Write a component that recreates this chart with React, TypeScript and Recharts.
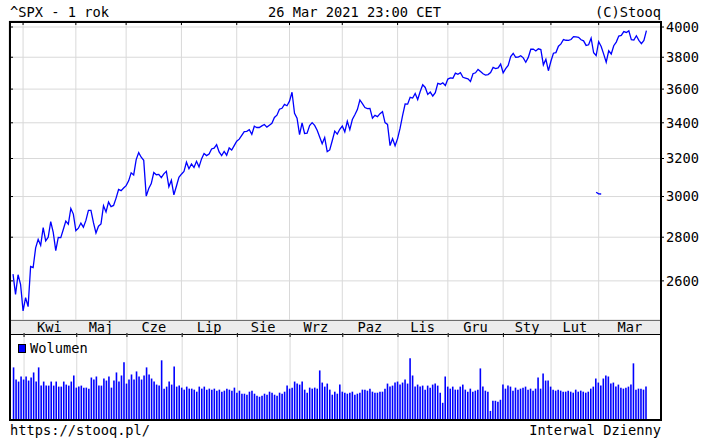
import {
  Bar,
  BarChart,
  CartesianGrid,
  ComposedChart,
  Line,
  XAxis,
  YAxis,
} from 'recharts';

// ^SPX daily closes, 26 Mar 2020 - 26 Mar 2021
const close = [
  // Mar 2020
  2630, 2541, 2627, 2585,
  // Apr
  2471, 2527, 2489, 2664, 2659, 2750, 2790, 2762, 2846, 2783, 2800, 2875, 2823, 2737, 2799, 2798, 2837,
  2878, 2863, 2940, 2912,
  // May
  2831, 2843, 2868, 2848, 2881, 2930, 2930, 2870, 2820, 2853, 2864, 2954, 2923, 2972, 2949, 2955, 2992,
  3036, 3030, 3044,
  // Jun
  3056, 3081, 3123, 3112, 3194, 3232, 3207, 3190, 3002, 3041, 3067, 3125, 3113, 3115, 3098, 3118, 3131,
  3050, 3084, 3009, 3053, 3100,
  // Jul
  3116, 3130, 3180, 3145, 3170, 3152, 3185, 3155, 3198, 3227, 3216, 3225, 3252, 3257, 3276, 3236, 3216,
  3239, 3218, 3258, 3246, 3271,
  // Aug
  3295, 3307, 3328, 3349, 3351, 3360, 3334, 3380, 3373, 3373, 3382, 3390, 3375, 3386, 3397, 3431, 3444,
  3479, 3485, 3508, 3500,
  // Sep
  3527, 3581, 3455, 3427, 3332, 3399, 3339, 3341, 3384, 3401, 3385, 3357, 3319, 3281, 3316, 3237, 3247,
  3298, 3352, 3335, 3363,
  // Oct
  3381, 3348, 3409, 3361, 3419, 3447, 3477, 3534, 3512, 3489, 3483, 3484, 3427, 3443, 3436, 3453, 3465,
  3401, 3391, 3271, 3310, 3270,
  // Nov
  3310, 3369, 3443, 3510, 3509, 3550, 3546, 3573, 3537, 3585, 3627, 3610, 3568, 3582, 3558, 3578, 3635,
  3630, 3638, 3622,
  // Dec
  3662, 3669, 3667, 3699, 3692, 3702, 3673, 3668, 3663, 3647, 3695, 3701, 3722, 3709, 3695, 3687, 3690,
  3703, 3735, 3727, 3732, 3756,
  // Jan 2021
  3701, 3727, 3748, 3804, 3825, 3800, 3801, 3810, 3796, 3768, 3799, 3852, 3853, 3841, 3855, 3850, 3751,
  3787, 3714,
  // Feb
  3774, 3826, 3830, 3872, 3887, 3916, 3911, 3910, 3916, 3935, 3933, 3931, 3914, 3907, 3877, 3881, 3925,
  3829, 3811,
  // Mar
  3902, 3870, 3820, 3768, 3842, 3821, 3875, 3899, 3939, 3943, 3969, 3963, 3974, 3915, 3913, 3941, 3911,
  3889, 3910, 3975,
];

// volume, bln
const volume = [
  5.2, 4.0, 3.8, 4.3,
  4.0, 4.3, 3.9, 4.2, 4.7, 3.8, 5.2, 3.4, 3.8, 3.4, 3.4, 3.8, 3.4, 3.8, 3.3, 3.3, 3.8, 3.5, 3.4, 3.8, 4.4,
  3.2, 3.3, 3.4, 3.2, 3.2, 3.1, 4.2, 4.0, 4.3, 3.4, 3.4, 4.1, 3.9, 4.3, 3.2, 3.9, 4.7, 3.8, 4.4, 5.7,
  3.6, 4.0, 4.5, 4.0, 4.8, 4.3, 4.0, 4.4, 5.2, 4.5, 4.1, 3.8, 3.5, 3.4, 5.9, 3.1, 3.3, 3.8, 3.5, 5.3, 3.3, 3.4,
  3.2, 3.0, 3.3, 3.1, 3.1, 3.0, 2.8, 3.3, 3.1, 3.3, 3.0, 3.1, 3.0, 3.1, 2.9, 3.0, 2.8, 2.9, 3.1, 3.0, 2.9, 3.2,
  2.7, 2.9, 2.6, 2.6, 2.5, 2.8, 2.9, 2.6, 2.4, 2.3, 2.4, 2.6, 2.5, 2.8, 2.7, 2.5, 2.4, 2.7, 2.6, 2.8, 3.4,
  3.1, 3.2, 3.8, 3.6, 3.5, 3.8, 3.0, 2.7, 3.2, 3.1, 3.2, 3.1, 4.9, 3.7, 3.3, 3.6, 3.0, 2.5, 2.8, 2.6, 3.5,
  2.8, 2.7, 2.6, 2.7, 2.8, 2.5, 2.6, 2.7, 3.0, 3.0, 2.9, 3.1, 2.8, 2.7, 2.7, 2.8, 2.8, 3.1, 3.6, 3.3, 3.4, 3.7,
  3.8, 3.5, 3.7, 4.0, 3.6, 6.1, 4.4, 3.3, 3.5, 3.3, 3.4, 3.0, 3.4, 3.2, 3.5, 3.6, 3.4, 2.7, 1.7, 4.3,
  3.3, 3.1, 3.3, 3.0, 3.0, 3.3, 3.5, 3.0, 2.8, 3.1, 2.8, 2.9, 3.0, 5.1, 3.3, 2.9, 2.8, 0.9, 1.9, 1.9, 1.8, 2.0,
  3.5, 3.1, 3.4, 3.3, 2.9, 3.2, 3.0, 3.1, 3.2, 3.3, 3.0, 3.1, 2.9, 3.1, 4.2, 3.1, 4.6, 3.9, 3.9,
  3.3, 3.0, 2.9, 3.0, 2.9, 2.8, 2.8, 2.9, 2.8, 2.7, 3.0, 2.8, 2.9, 2.8, 2.7, 2.8, 3.1, 3.3, 4.1,
  3.7, 3.4, 4.1, 4.4, 4.3, 3.6, 3.7, 3.3, 3.5, 3.2, 3.1, 3.2, 3.3, 3.5, 5.6, 3.0, 3.1, 3.1, 3.0, 3.3,
];

// small stray segment drawn near 3000
const strayIdx = [232, 233, 234];
const strayVal = [3022, 3014, 3013];

const monthLabels = ['Kwi', 'Maj', 'Cze', 'Lip', 'Sie', 'Wrz', 'Paz', 'Lis', 'Gru', 'Sty', 'Lut', 'Mar'];
const monthStart = [4, 25, 45, 67, 89, 110, 131, 153, 173, 195, 214, 233];
const priceTicks = [2600, 2800, 3000, 3200, 3400, 3600, 3800, 4000];

const X_DOMAIN: [number, number] = [-1.6, 257.8];
const Y_DOMAIN: [number, number] = [2433, 4041];

const data = close.map((c, i) => {
  const s = strayIdx.indexOf(i);
  return { i, close: c, stray: s >= 0 ? strayVal[s] : null, volume: volume[i] };
});

const monthEnd = [...monthStart.slice(1), X_DOMAIN[1]];
const labelPos = monthStart.map((s, k) => (s + monthEnd[k]) / 2);

const font = "'DejaVu Sans Mono', monospace";
const fontSize = 13.7;
const gridColor = '#d9d9d9';
const blank = () => '';

export default function App() {
  return (
    <div style={{ position: 'absolute', left: 0, top: 0, width: 704, height: 443, background: '#fff' }}>
      {/* month band */}
      <div
        style={{
          position: 'absolute',
          left: 10,
          top: 320,
          width: 651,
          height: 15,
          boxSizing: 'border-box',
          background: '#ececec',
          borderTop: '1px solid #000',
          borderBottom: '1px solid #000',
        }}
      />
      <div style={{ position: 'absolute', left: 0, top: 0 }}>
        <ComposedChart width={704} height={334} data={data} margin={{ top: 21, right: 0, bottom: 0, left: 9 }}>
          <CartesianGrid xAxisId="top" yAxisId="r" stroke={gridColor} />
          <XAxis
            xAxisId="top"
            orientation="top"
            dataKey="i"
            type="number"
            domain={X_DOMAIN}
            allowDataOverflow
            ticks={monthStart}
            interval={0}
            height={1}
            mirror
            axisLine={false}
            tickSize={4}
            tickLine={{ stroke: '#000' }}
            tickFormatter={blank}
          />
          <XAxis
            xAxisId="m"
            dataKey="i"
            type="number"
            domain={X_DOMAIN}
            allowDataOverflow
            ticks={labelPos}
            interval={0}
            height={14}
            axisLine={false}
            tickLine={false}
            tickSize={0}
            tickMargin={2}
            tickFormatter={(v) => monthLabels[labelPos.indexOf(v)] ?? ''}
            tick={{ fontFamily: font, fontSize, fill: '#000' }}
          />
          <YAxis
            yAxisId="r"
            orientation="right"
            scale="log"
            domain={Y_DOMAIN}
            allowDataOverflow
            ticks={priceTicks}
            interval={0}
            width={43}
            axisLine={false}
            tickSize={3}
            tickMargin={2}
            tickLine={{ stroke: '#000' }}
            tick={{ fontFamily: font, fontSize, fill: '#000' }}
          />
          <YAxis
            yAxisId="l"
            orientation="left"
            scale="log"
            domain={Y_DOMAIN}
            allowDataOverflow
            ticks={priceTicks}
            interval={0}
            width={1}
            mirror
            axisLine={false}
            tickSize={4}
            tickLine={{ stroke: '#000' }}
            tickFormatter={blank}
          />
          <Line
            xAxisId="top"
            yAxisId="r"
            type="linear"
            dataKey="close"
            stroke="#0000ff"
            strokeWidth={1.3}
            dot={false}
            isAnimationActive={false}
          />
          <Line
            xAxisId="top"
            yAxisId="r"
            type="linear"
            dataKey="stray"
            stroke="#0000ff"
            strokeWidth={1.3}
            dot={false}
            connectNulls={false}
            isAnimationActive={false}
          />
        </ComposedChart>
      </div>
      <div style={{ position: 'absolute', left: 0, top: 333 }}>
        <BarChart width={704} height={87} data={data} margin={{ top: 0, right: 43, bottom: 0, left: 10 }}>
          <CartesianGrid xAxisId="t" yAxisId="v" horizontal={false} stroke={gridColor} />
          <XAxis
            xAxisId="t"
            orientation="top"
            dataKey="i"
            type="number"
            domain={X_DOMAIN}
            allowDataOverflow
            ticks={monthStart}
            interval={0}
            height={1}
            mirror
            axisLine={false}
            tickSize={4}
            tickLine={{ stroke: '#000' }}
            tickFormatter={blank}
          />
          <YAxis yAxisId="v" hide domain={[0, 8.6]} allowDataOverflow />
          <Bar xAxisId="t" yAxisId="v" dataKey="volume" fill="#0000ff" barSize={1.6} isAnimationActive={false} />
        </BarChart>
      </div>
      {/* frame */}
      <div
        style={{
          position: 'absolute',
          left: 9,
          top: 21,
          width: 653,
          height: 400,
          boxSizing: 'border-box',
          border: '2px solid #000',
          pointerEvents: 'none',
        }}
      />
      <svg
        width={704}
        height={443}
        style={{ position: 'absolute', left: 0, top: 0, pointerEvents: 'none' }}
        fontFamily={font}
        fontSize={fontSize}
        fill="#000"
      >
        <text x={10} y={17}>^SPX - 1 rok</text>
        <text x={268} y={17}>26 Mar 2021 23:00 CET</text>
        <text x={661} y={17} textAnchor="end">(C)Stooq</text>
        <rect x={18.5} y={344.5} width={7} height={8} fill="#0000ff" stroke="#000" strokeWidth={1} />
        <text x={30} y={353}>Wolumen</text>
        <text x={10} y={435}>https://stooq.pl/</text>
        <text x={661} y={435} textAnchor="end">Interwal Dzienny</text>
      </svg>
    </div>
  );
}
